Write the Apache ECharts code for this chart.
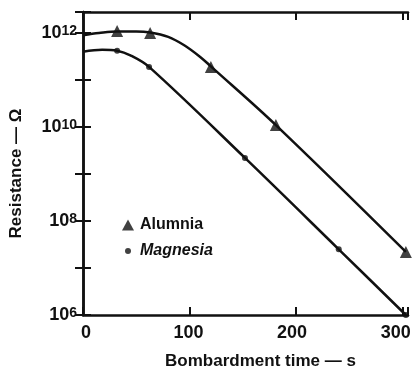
<!DOCTYPE html>
<html>
<head>
<meta charset="utf-8">
<script src="https://cdn.jsdelivr.net/npm/echarts@6/dist/echarts.min.js"></script>
<style>
  html, body { margin: 0; padding: 0; background: #fff; }
  #chart { width: 414px; height: 369px; }
</style>
</head>
<body>
<div id="chart"></div>
<script>
// measured points (time s, resistance ohm)
var alumniaPts = [[32, 1.1e12], [63, 1.0e12], [120, 1.9e11], [181, 1.1e10], [303, 2.2e7]];
var magnesiaPts = [[32, 4.2e11], [62, 1.9e11], [152, 2.2e9], [240, 2.5e7], [303, 1.0e6]];
// hand-drawn fitted curves
var alumniaCurve = [[0, 9.0e11], [15, 1.0e12], [32, 1.08e12], [50, 1.08e12], [63, 1.03e12], [80, 8.3e11],
  [95, 5.5e11], [110, 3.1e11], [120, 1.95e11], [181, 1.1e10], [303, 2.2e7]];
var magnesiaCurve = [[0, 4.0e11], [18, 4.4e11], [32, 4.2e11], [45, 3.3e11], [62, 1.9e11],
  [152, 2.2e9], [240, 2.5e7], [303, 1.0e6]];
var xTicks = [0, 100, 200, 300];

var FONT = 'Liberation Sans';
var INK = '#111';

var chart = echarts.init(document.getElementById('chart'));

function yLabel(v) {
  var e = Math.log10(v);
  var r = Math.round(e);
  if (Math.abs(e - r) > 1e-6 || r % 2 !== 0) return '';
  return '{b|10}{s|' + r + '}';
}

// the printed x labels sit a little left of their ticks
function xLabel(v) {
  var i = xTicks.indexOf(v);
  if (i < 0) return '';
  return '{p' + i + '|' + v + '}';
}
var xLabelBase = { fontFamily: FONT, fontSize: 18, fontWeight: 'bold', color: INK };
var xRich = {
  p0: Object.assign({ padding: [0, 0, 0, 6] }, xLabelBase),
  p1: Object.assign({ padding: [0, 2, 0, 0] }, xLabelBase),
  p2: Object.assign({ padding: [0, 8, 0, 0] }, xLabelBase),
  p3: Object.assign({ padding: [0, 14, 0, 0] }, xLabelBase)
};

var boxAxis = {
  axisLine: { lineStyle: { color: INK, width: 2.5 } },
  axisTick: { inside: true, length: 8, lineStyle: { color: INK, width: 2 } },
  splitLine: { show: false }
};

chart.setOption({
  animation: false,
  backgroundColor: '#fff',
  grid: { left: 83, right: 6, top: 12, bottom: 54, outerBoundsMode: 'none' },
  legend: [{
    left: 117,
    top: 212,
    itemWidth: 12,
    itemHeight: 11,
    data: ['Alumnia'],
    textStyle: { fontFamily: FONT, fontSize: 16, fontWeight: 'bold', color: INK, padding: [0, 0, 0, 1] }
  }, {
    left: 120,
    top: 238,
    itemWidth: 6,
    itemHeight: 6,
    data: ['Magnesia'],
    textStyle: { fontFamily: FONT, fontSize: 16, fontWeight: 'bold', fontStyle: 'italic', color: INK, padding: [0, 0, 0, 4] }
  }],
  xAxis: [Object.assign({
    type: 'value',
    min: 0,
    max: 305,
    interval: 100,
    name: 'Bombardment time — s',
    nameLocation: 'middle',
    nameGap: 38,
    nameTextStyle: { fontFamily: FONT, fontSize: 17, fontWeight: 'bold', color: INK, padding: [0, 0, 0, 30] },
    axisLabel: { margin: 9, formatter: xLabel, rich: xRich }
  }, boxAxis), Object.assign({
    type: 'value',
    position: 'top',
    min: 0,
    max: 305,
    interval: 100,
    axisLabel: { show: false }
  }, boxAxis)],
  yAxis: [Object.assign({
    type: 'log',
    logBase: 10,
    min: 1e6,
    max: 2.8e12,
    interval: 1,
    name: 'Resistance — Ω',
    nameLocation: 'middle',
    nameGap: 58,
    nameTextStyle: { fontFamily: FONT, fontSize: 17, fontWeight: 'bold', color: INK, padding: [0, 20, 0, 0] },
    axisLabel: {
      margin: 6,
      formatter: yLabel,
      rich: {
        b: { fontFamily: FONT, fontSize: 18, fontWeight: 'bold', color: INK },
        s: { fontFamily: FONT, fontSize: 14, fontWeight: 'bold', color: INK, verticalAlign: 'top', padding: [0, 0, 3, 0] }
      }
    }
  }, boxAxis), Object.assign({
    type: 'log',
    logBase: 10,
    position: 'right',
    min: 1e6,
    max: 2.8e12,
    interval: 1,
    axisLabel: { show: false }
  }, boxAxis)],
  series: [{
    name: 'Alumnia fit',
    type: 'line',
    data: alumniaCurve,
    smooth: 0.35,
    showSymbol: false,
    lineStyle: { color: INK, width: 2.5 },
    z: 2
  }, {
    name: 'Magnesia fit',
    type: 'line',
    data: magnesiaCurve,
    smooth: 0.35,
    showSymbol: false,
    lineStyle: { color: INK, width: 2.5 },
    z: 2
  }, {
    name: 'Alumnia',
    type: 'scatter',
    data: alumniaPts,
    symbol: 'triangle',
    symbolSize: 12,
    itemStyle: { color: INK },
    z: 3
  }, {
    name: 'Magnesia',
    type: 'scatter',
    data: magnesiaPts,
    symbol: 'circle',
    symbolSize: 6,
    itemStyle: { color: INK },
    z: 3
  }]
});
</script>
</body>
</html>
